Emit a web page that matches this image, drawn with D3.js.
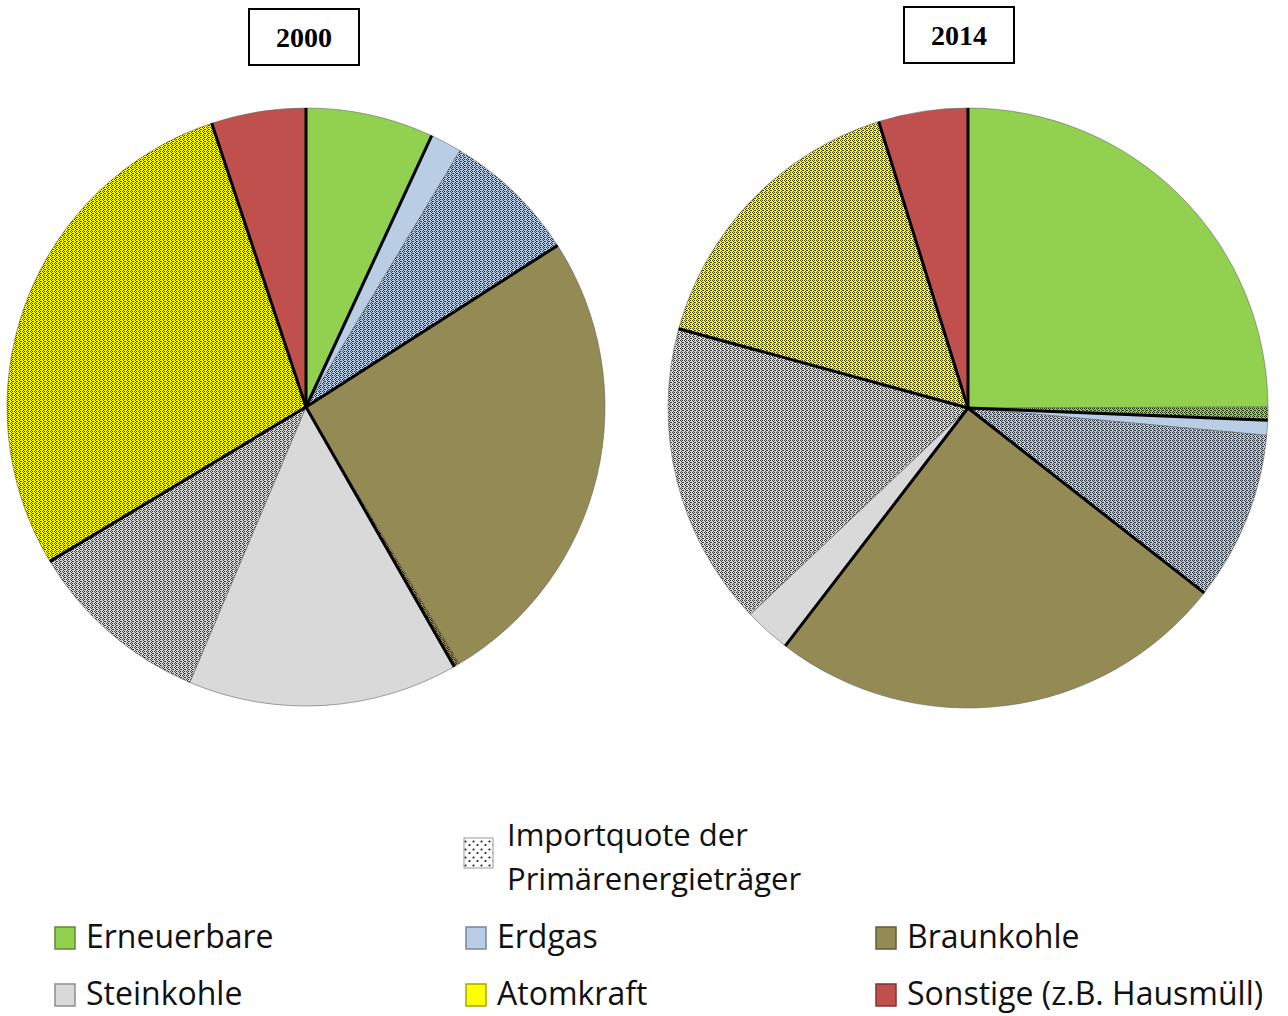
<!DOCTYPE html>
<html>
<head>
<meta charset="utf-8">
<script src="https://cdn.jsdelivr.net/npm/d3@7"></script>
<style>
  body { margin: 0; background: #fff; }
  svg { display: block; }
</style>
</head>
<body>
<svg id="chart"></svg>
<script>
// categories in clockwise order, starting at 12 o'clock
var categories = ["Erneuerbare", "Erdgas", "Braunkohle", "Steinkohle", "Atomkraft", "Sonstige (z.B. Hausmüll)"]
var colors = ["#92d050", "#b9cde5", "#948a54", "#d9d9d9", "#ffff00", "#c0504d"]

// share of primary energy (%) and the imported part of it
var share2000 = [6.9, 9.0, 25.8, 24.6, 28.5, 5.1]
var import2000 = [0, 7.3, 0.3, 10.0, 28.5, 0]
var share2014 = [25.6, 9.9, 24.8, 18.8, 15.9, 4.8]
var import2014 = [0.7, 9.1, 0, 16.3, 15.9, 0]

var years = ["2000", "2014"]

var width = 1288, height = 1016
var svg = d3.select("#chart").attr("width", width).attr("height", height)
var defs = svg.append("defs")

// dense "import" texture for every colour
colors.forEach(function (c, i) {
  var p = defs.append("pattern")
    .attr("id", "imp" + i)
    .attr("patternUnits", "userSpaceOnUse")
    .attr("width", 4).attr("height", 4)
  p.append("rect").attr("width", 4).attr("height", 4).attr("fill", c)
  var dots = [[0, 0], [1, 1], [2, 0], [3, 2], [1, 3], [2, 2]]
  dots.forEach(function (d) {
    p.append("rect").attr("x", d[0]).attr("y", d[1])
      .attr("width", 1).attr("height", 1)
      .attr("fill", "#000").attr("opacity", 0.75)
  })
})

// sparse dotted pattern for the legend
var lp = defs.append("pattern")
  .attr("id", "legendDots")
  .attr("patternUnits", "userSpaceOnUse")
  .attr("width", 8).attr("height", 8)
lp.append("rect").attr("width", 8).attr("height", 8).attr("fill", "#fff")
lp.append("circle").attr("cx", 1.5).attr("cy", 1.5).attr("r", 1.1).attr("fill", "#222")
lp.append("circle").attr("cx", 5.5).attr("cy", 5).attr("r", 1.1).attr("fill", "#222")

function makeSegments(share, imp) {
  var segs = []
  share.forEach(function (s, i) {
    var dom = Math.max(0, s - imp[i])
    segs.push({ cat: i, imported: false, value: dom })
    segs.push({ cat: i, imported: true, value: imp[i] })
  })
  return segs
}

var pies = [
  { year: years[0], cx: 306, cy: 407, r: 299, segs: makeSegments(share2000, import2000),
    box: { x: 249, y: 9, w: 110, h: 56 } },
  { year: years[1], cx: 968, cy: 408, r: 300, segs: makeSegments(share2014, import2014),
    box: { x: 904, y: 7, w: 110, h: 56 } }
]

var pie = d3.pie().sort(null).value(function (d) { return d.value })

pies.forEach(function (pd) {
  var g = svg.append("g").attr("transform", "translate(" + pd.cx + "," + pd.cy + ")")
  var arc = d3.arc().innerRadius(0).outerRadius(pd.r)
  var arcs = pie(pd.segs).filter(function (d) { return d.data.value > 0 })

  g.selectAll("path.slice")
    .data(arcs)
    .enter()
    .append("path")
    .attr("class", "slice")
    .attr("d", arc)
    .attr("fill", function (d) {
      return d.data.imported ? "url(#imp" + d.data.cat + ")" : colors[d.data.cat]
    })
    .attr("stroke", "#666")
    .attr("stroke-width", 0.6)

  // thick black separators between categories
  var starts = []
  var angle = 0, total = d3.sum(pd.segs, function (d) { return d.value })
  pd.segs.forEach(function (s, i) {
    if (!s.imported) starts.push(angle)
    angle += s.value / total * 2 * Math.PI
  })
  g.selectAll("line.sep")
    .data(starts)
    .enter()
    .append("line")
    .attr("class", "sep")
    .attr("x1", 0).attr("y1", 0)
    .attr("x2", function (a) { return pd.r * Math.sin(a) })
    .attr("y2", function (a) { return -pd.r * Math.cos(a) })
    .attr("stroke", "#000")
    .attr("stroke-width", 3)

  // year box
  svg.append("rect")
    .attr("x", pd.box.x).attr("y", pd.box.y)
    .attr("width", pd.box.w).attr("height", pd.box.h)
    .attr("fill", "#fff").attr("stroke", "#000").attr("stroke-width", 2)
  svg.append("text")
    .attr("x", pd.box.x + pd.box.w / 2)
    .attr("y", pd.box.y + 38)
    .attr("text-anchor", "middle")
    .style("font-family", "'Liberation Serif', 'Times New Roman', serif")
    .style("font-weight", "bold")
    .style("font-size", "28px")
    .text(pd.year)
})

// legend
var legendFont = "'Open Sans', Lato, sans-serif"
svg.append("rect")
  .attr("x", 464).attr("y", 838).attr("width", 29).attr("height", 30)
  .attr("fill", "url(#legendDots)").attr("stroke", "#999").attr("stroke-width", 1)
svg.append("text")
  .attr("x", 507).attr("y", 846)
  .style("font-family", legendFont).style("font-size", "31px").attr("fill", "#111")
  .text("Importquote der")
svg.append("text")
  .attr("x", 507).attr("y", 890)
  .style("font-family", legendFont).style("font-size", "31px").attr("fill", "#111")
  .text("Primärenergieträger")

var colX = [55, 466, 876]
var rowY = [938, 995]
var items = svg.selectAll("g.item")
  .data(categories)
  .enter()
  .append("g")
  .attr("class", "item")
  .attr("transform", function (d, i) {
    return "translate(" + colX[i % 3] + "," + rowY[Math.floor(i / 3)] + ")"
  })
items.append("rect")
  .attr("x", 0).attr("y", -11).attr("width", 20).attr("height", 22)
  .attr("fill", function (d, i) { return colors[i] })
  .attr("stroke", function (d, i) { return d3.color(colors[i]).darker(1.2) })
  .attr("stroke-width", 1.5)
items.append("text")
  .attr("x", 31).attr("y", 10)
  .style("font-family", legendFont).style("font-size", "32px").attr("fill", "#111")
  .text(function (d) { return d })
</script>
</body>
</html>
